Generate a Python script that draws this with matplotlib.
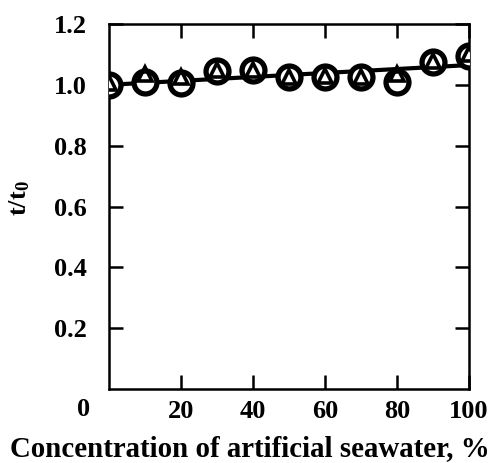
import matplotlib
matplotlib.use("Agg")
import matplotlib.pyplot as plt
import numpy as np

plt.rcParams['font.family'] = 'Liberation Serif'
plt.rcParams['font.weight'] = 'bold'
plt.rcParams['mathtext.fontset'] = 'custom'
plt.rcParams['mathtext.rm'] = 'Liberation Serif:bold'
plt.rcParams['mathtext.bf'] = 'Liberation Serif:bold'
plt.rcParams['mathtext.it'] = 'Liberation Serif:bold'

conc = [0, 10, 20, 30, 40, 50, 60, 70, 80, 90, 100]
circle_vals = [1.00, 1.01, 1.005, 1.045, 1.05, 1.025, 1.027, 1.025, 1.01, 1.075, 1.095]
triangle_vals = [1.005, 1.035, 1.025, 1.05, 1.05, 1.027, 1.03, 1.027, 1.035, 1.077, 1.10]
fit_x = [0, 100]
fit_y = [1.0, 1.065]
xticks = [20, 40, 60, 80, 100]
yticks = [0.2, 0.4, 0.6, 0.8, 1.0, 1.2]

W, H = 498, 463
fig = plt.figure(figsize=(W/100, H/100), dpi=100)
ax = fig.add_axes([109/W, 74/H, 360/W, 365/H])

ax.plot(fit_x, fit_y, color='black', lw=3.0, zorder=2)
ax.plot(conc, circle_vals, linestyle='none', marker='o', ms=16.5, mfc='white',
        mec='black', mew=3.8, zorder=3)
ax.plot(conc, triangle_vals, linestyle='none', marker='^', ms=10, mfc='none',
        mec='black', mew=2.6, zorder=4)

ax.set_xlim(0, 100)
ax.set_ylim(0, 1.2)
ax.set_xticks(xticks)
ax.set_yticks(yticks)
ax.set_xticklabels([str(v) for v in xticks])
ax.set_yticklabels([f"{v:.1f}" for v in yticks])
ax.tick_params(direction='in', length=10, width=1.8, top=True, right=True,
               labelsize=19, pad=8)
ax.tick_params(axis='y', pad=16)
for s in ax.spines.values():
    s.set_linewidth(1.8)

ax.text(-7.2, -0.068, "0", transform=ax.transData, ha='center', va='center',
        fontsize=19, fontweight='bold')

fig.text(250/W, 1 - 456/H, "Concentration of artificial seawater, %",
         fontsize=20.8, fontweight='bold', ha='center', va='baseline')
fig.text(20/W, 1 - 198/H, r"$\mathbf{t/t_0}$", fontsize=19, rotation=90,
         ha='center', va='center')

fig.savefig("out.png", dpi=100)
